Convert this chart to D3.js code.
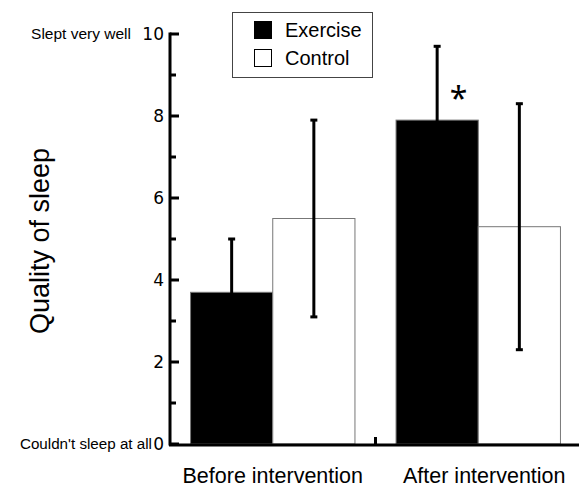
<!DOCTYPE html>
<html>
<head>
<meta charset="utf-8">
<script src="https://cdn.jsdelivr.net/npm/d3@7"></script>
<style>
  body { margin: 0; background: #fff; }
  text { font-family: "Liberation Sans", Arial, sans-serif; fill: #000; }
</style>
</head>
<body>
<div id="chart"></div>
<script>
// data
const groups = ["Before intervention", "After intervention"];
const seriesNames = ["Exercise", "Control"];
const exerciseMean = [3.7, 7.9];
const exerciseSD = [1.3, 1.8];
const controlMean = [5.5, 5.3];
const controlSD = [2.4, 3.0];
const yTicks = [0, 2, 4, 6, 8, 10];
const yMinorTicks = [1, 3, 5, 7, 9];
const significant = [false, true]; // asterisk over exercise bar

const width = 579;
const height = 488;

const svg = d3.select("#chart")
  .append("svg")
  .attr("width", width)
  .attr("height", height);

// scales
const x = d3.scaleBand().domain(groups).range([170, 581]).paddingInner(0.2).paddingOuter(0.1);
const xSub = d3.scaleBand().domain(seriesNames).range([0, x.bandwidth()]);
const y = d3.scaleLinear().domain([0, 10]).range([444, 34]);

const rows = [];
groups.forEach((g, i) => {
  rows.push({ group: g, series: "Exercise", mean: exerciseMean[i], sd: exerciseSD[i], sig: significant[i] });
  rows.push({ group: g, series: "Control", mean: controlMean[i], sd: controlSD[i], sig: false });
});
const fill = { Exercise: "#000", Control: "#fff" };

// bars
svg.append("g")
  .selectAll("rect")
  .data(rows)
  .enter()
  .append("rect")
  .attr("x", d => x(d.group) + xSub(d.series))
  .attr("y", d => y(d.mean))
  .attr("width", xSub.bandwidth())
  .attr("height", d => y(0) - y(d.mean))
  .attr("fill", d => fill[d.series])
  .attr("stroke", "#777")
  .attr("stroke-width", 1);

// error bars
const err = svg.append("g").selectAll("g")
  .data(rows)
  .enter()
  .append("g")
  .attr("transform", d => `translate(${x(d.group) + xSub(d.series) + xSub.bandwidth() / 2},0)`);

err.append("line")
  .attr("y1", d => y(d.mean - d.sd))
  .attr("y2", d => y(d.mean + d.sd))
  .attr("stroke", "#000")
  .attr("stroke-width", 3);

err.append("rect")
  .attr("x", -3.5).attr("width", 7).attr("height", 3)
  .attr("y", d => y(d.mean + d.sd) - 1.5)
  .attr("fill", "#000");

err.append("rect")
  .attr("x", -3.5).attr("width", 7).attr("height", 3)
  .attr("y", d => y(d.mean - d.sd) - 1.5)
  .attr("fill", "#000");

// asterisk
svg.append("g")
  .selectAll("text")
  .data(rows.filter(d => d.sig))
  .enter()
  .append("text")
  .attr("x", d => x(d.group) + xSub(d.series) + xSub.bandwidth() * 0.76)
  .attr("y", d => y(d.mean) - 10)
  .attr("text-anchor", "middle")
  .style("font-family", "'Noto Sans', sans-serif")
  .style("font-size", "32px")
  .text("*");

// y axis
const yAxis = svg.append("g");
yAxis.append("line")
  .attr("x1", 170).attr("x2", 170)
  .attr("y1", y(10) - 1.5).attr("y2", y(0) + 1.5)
  .attr("stroke", "#000").attr("stroke-width", 3);

yAxis.selectAll(".major")
  .data(yTicks)
  .enter()
  .append("line")
  .attr("x1", 170).attr("x2", 179)
  .attr("y1", d => y(d)).attr("y2", d => y(d))
  .attr("stroke", "#000").attr("stroke-width", 3);

yAxis.selectAll(".minor")
  .data(yMinorTicks)
  .enter()
  .append("line")
  .attr("x1", 170).attr("x2", 176)
  .attr("y1", d => y(d)).attr("y2", d => y(d))
  .attr("stroke", "#000").attr("stroke-width", 3);

yAxis.selectAll(".lbl")
  .data(yTicks)
  .enter()
  .append("text")
  .attr("x", 164)
  .attr("y", d => y(d))
  .attr("dy", "0.36em")
  .attr("text-anchor", "end")
  .style("font-family", "'DejaVu Sans', sans-serif")
  .style("font-size", "17px")
  .text(d => d);

yAxis.append("text")
  .attr("x", 131).attr("y", y(10)).attr("dy", "0.3em")
  .attr("text-anchor", "end")
  .style("font-size", "15.5px")
  .text("Slept very well");

yAxis.append("text")
  .attr("x", 152).attr("y", y(0)).attr("dy", "0.3em")
  .attr("text-anchor", "end")
  .style("font-size", "15.2px")
  .text("Couldn't sleep at all");

// y title
svg.append("text")
  .attr("transform", "translate(49,241) rotate(-90)")
  .attr("text-anchor", "middle")
  .style("font-size", "27px")
  .text("Quality of sleep");

// x axis
svg.append("line")
  .attr("x1", 169).attr("x2", width)
  .attr("y1", 445).attr("y2", 445)
  .attr("stroke", "#000").attr("stroke-width", 3);

svg.append("line")
  .attr("x1", x(groups[1]) - (x.step() - x.bandwidth()) / 2)
  .attr("x2", x(groups[1]) - (x.step() - x.bandwidth()) / 2)
  .attr("y1", 445).attr("y2", 437)
  .attr("stroke", "#000").attr("stroke-width", 3);

svg.append("g")
  .selectAll("text")
  .data(groups)
  .enter()
  .append("text")
  .attr("x", (d, i) => x(d) + x.bandwidth() / 2 + (i === 1 ? 6 : 0))
  .attr("y", 483)
  .attr("text-anchor", "middle")
  .style("font-size", "21.5px")
  .text(d => d);

// legend
const legend = svg.append("g");
legend.append("rect")
  .attr("x", 232.5).attr("y", 12.5)
  .attr("width", 140).attr("height", 65)
  .attr("fill", "#fff")
  .attr("stroke", "#444").attr("stroke-width", 1);

const li = legend.selectAll(".item")
  .data(seriesNames)
  .enter()
  .append("g")
  .attr("transform", (d, i) => `translate(254,${21 + i * 28})`);

li.append("rect")
  .attr("x", 0.5).attr("y", 0.5)
  .attr("width", 17).attr("height", 17)
  .attr("fill", d => fill[d])
  .attr("stroke", "#000").attr("stroke-width", 1);

li.append("text")
  .attr("x", 31).attr("y", 9)
  .attr("dy", "0.36em")
  .style("font-size", "20px")
  .text(d => d);
</script>
</body>
</html>
